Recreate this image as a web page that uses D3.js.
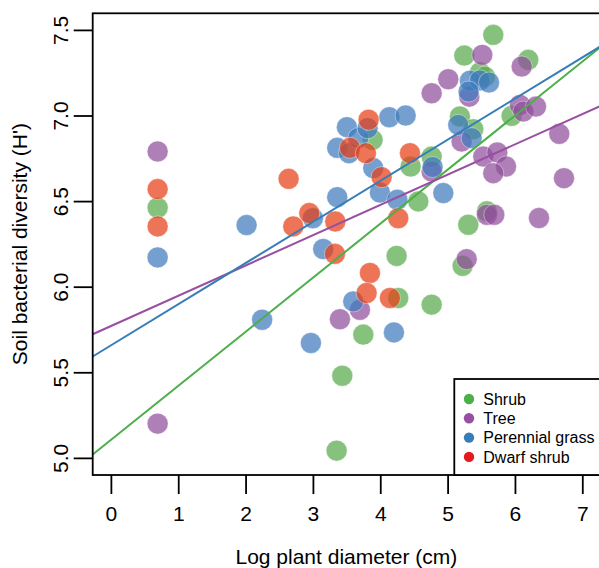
<!DOCTYPE html>
<html>
<head>
<meta charset="utf-8">
<script src="https://cdn.jsdelivr.net/npm/d3@7"></script>
<style>
  html, body { margin: 0; padding: 0; background: #fff; }
  svg { display: block; font-family: "Liberation Sans", Arial, sans-serif; }
</style>
</head>
<body>
<svg id="chart" width="599" height="568"></svg>
<script>
// groups in legend order (also the drawing order)
const groups = ['Shrub', 'Tree', 'Perennial grass', 'Dwarf shrub'];
const lineColors = ['#4daf4a', '#984ea3', '#377eb8', '#e41a1c'];
const pointColors = ['#58ab4b', '#904e9b', '#3e7abc', '#e73e16'];

// [log diameter, diversity]
const shrubPts = [
  [0.694, 6.461], [3.886, 6.858], [4.451, 6.702], [4.565, 6.498], [4.763, 6.76],
  [4.243, 6.18], [4.267, 5.934], [4.763, 5.895], [3.748, 5.72], [3.436, 5.48],
  [3.352, 5.042], [5.678, 7.471], [5.248, 7.35], [6.198, 7.325], [5.48, 7.252],
  [5.555, 7.227], [5.183, 6.994], [5.381, 6.92], [5.951, 6.998], [5.584, 6.44],
  [5.307, 6.362], [5.223, 6.122]
];
const treePts = [
  [0.694, 6.79], [0.694, 5.2], [3.401, 5.81], [3.698, 5.865], [4.763, 6.673],
  [5.515, 7.354], [6.1, 7.286], [5.01, 7.212], [4.763, 7.13], [5.322, 7.11],
  [5.208, 6.848], [6.074, 7.062], [6.124, 7.023], [6.312, 7.052], [6.658, 6.893],
  [5.53, 6.76], [5.738, 6.784], [5.867, 6.702], [5.678, 6.663], [6.728, 6.634],
  [5.584, 6.42], [5.693, 6.42], [6.357, 6.401], [5.283, 6.161]
];
const grassPts = [
  [0.694, 6.171], [2.015, 6.36], [3.0, 6.4], [3.361, 6.523], [3.505, 6.932],
  [3.361, 6.811], [3.535, 6.78], [3.673, 6.868], [3.812, 6.926], [3.896, 6.693],
  [3.995, 6.55], [4.134, 6.99], [4.377, 7.0], [4.253, 6.508], [3.153, 6.22],
  [4.777, 6.699], [4.936, 6.547], [3.599, 5.914], [2.246, 5.807], [2.97, 5.671],
  [4.203, 5.733], [5.332, 7.203], [5.48, 7.205], [5.615, 7.193], [5.312, 7.14],
  [5.158, 6.945], [5.357, 6.868]
];
const dwarfPts = [
  [0.694, 6.57], [0.694, 6.352], [2.639, 6.63], [2.946, 6.43], [2.708, 6.352],
  [3.332, 6.381], [3.827, 6.975], [3.55, 6.811], [3.787, 6.78], [4.02, 6.64],
  [4.441, 6.78], [4.267, 6.4], [3.327, 6.192], [3.847, 6.08], [3.797, 5.963],
  [4.144, 5.934]
];

// fitted lines: [intercept, slope] for Shrub, Tree, Perennial grass
const fitShrub = [5.105, 0.3157];
const fitTree = [5.77, 0.1769];
const fitGrass = [5.657, 0.2403];

const xTicks = [0, 1, 2, 3, 4, 5, 6, 7];
const yTicks = [5.0, 5.5, 6.0, 6.5, 7.0, 7.5];

const svg = d3.select('#chart');
const plotL = 92.7, plotR = 600, plotT = 13.3, plotB = 475;

let x = d3.scaleLinear().domain([-0.27, 7.263]).range([plotL, plotR]);
let y = d3.scaleLinear().domain([4.9, 7.597]).range([plotB, plotT]);

svg.append('defs').append('clipPath').attr('id', 'plotclip')
  .append('rect')
  .attr('x', plotL).attr('y', plotT)
  .attr('width', plotR - plotL).attr('height', plotB - plotT);

// points
let allPts = [shrubPts, treePts, grassPts, dwarfPts];
let pg = svg.append('g').attr('clip-path', 'url(#plotclip)');
allPts.forEach((pts, gi) => {
  pg.append('g')
    .selectAll('circle')
    .data(pts)
    .enter()
    .append('circle')
    .attr('cx', d => x(d[0]))
    .attr('cy', d => y(d[1]))
    .attr('r', 10.5)
    .attr('fill', pointColors[gi])
    .attr('fill-opacity', 0.72)
    .attr('stroke', '#fff')
    .attr('stroke-opacity', 0.5)
    .attr('stroke-width', 0.8);
});

// regression lines
let fits = [
  { f: fitShrub, c: lineColors[0] },
  { f: fitTree, c: lineColors[1] },
  { f: fitGrass, c: lineColors[2] }
];
let lg = svg.append('g').attr('clip-path', 'url(#plotclip)');
fits.forEach(d => {
  let x0 = x.domain()[0], x1 = x.domain()[1];
  lg.append('line')
    .attr('x1', x(x0)).attr('y1', y(d.f[0] + d.f[1] * x0))
    .attr('x2', x(x1)).attr('y2', y(d.f[0] + d.f[1] * x1))
    .attr('stroke', d.c)
    .attr('stroke-width', 2);
});

// box
svg.append('rect')
  .attr('x', plotL).attr('y', plotT)
  .attr('width', plotR - plotL + 10).attr('height', plotB - plotT)
  .attr('fill', 'none')
  .attr('stroke', '#000')
  .attr('stroke-width', 1.8);

// x axis
let xAxis = d3.axisBottom(x).tickValues(xTicks).tickSize(19).tickPadding(12)
  .tickFormat(d3.format('d'));
let xg = svg.append('g').attr('transform', 'translate(0,' + plotB + ')').call(xAxis);
xg.select('.domain').remove();
xg.selectAll('line').attr('stroke-width', 1.8);
xg.selectAll('text').attr('font-size', 21).attr('fill', '#000')
  .attr('font-family', '"Liberation Sans", Arial, sans-serif');

// y axis
let yAxis = d3.axisLeft(y).tickValues(yTicks).tickSize(19).tickFormat(d3.format('.1f'));
let yg = svg.append('g').attr('transform', 'translate(' + plotL + ',0)').call(yAxis);
yg.select('.domain').remove();
yg.selectAll('line').attr('stroke-width', 1.8);
yg.selectAll('text')
  .attr('font-size', 21).attr('fill', '#000')
  .attr('font-family', '"Liberation Sans", Arial, sans-serif')
  .attr('text-anchor', 'middle')
  .attr('dy', 0)
  .attr('x', 0)
  .attr('transform', 'translate(-25,0) rotate(-90)');

// axis titles
svg.append('text')
  .attr('x', (plotL + plotR) / 2).attr('y', 564)
  .attr('text-anchor', 'middle')
  .attr('font-size', 21)
  .text('Log plant diameter (cm)');

svg.append('text')
  .attr('transform', 'translate(27,' + (plotT + plotB) / 2 + ') rotate(-90)')
  .attr('text-anchor', 'middle')
  .attr('font-size', 21)
  .text("Soil bacterial diversity (H')");

// legend
let legX = 454.3, legY = 379;
svg.append('rect')
  .attr('x', legX).attr('y', legY)
  .attr('width', 200).attr('height', plotB - legY)
  .attr('fill', '#fff')
  .attr('stroke', '#000')
  .attr('stroke-width', 1.8);

let leg = svg.append('g');
groups.forEach((g, i) => {
  let cy = 399 + i * 19.3;
  leg.append('circle')
    .attr('cx', 469).attr('cy', cy).attr('r', 5.2)
    .attr('fill', lineColors[i]);
  leg.append('text')
    .attr('x', 483.3).attr('y', cy).attr('dy', '0.36em')
    .attr('font-size', 16)
    .text(g);
});
</script>
</body>
</html>
